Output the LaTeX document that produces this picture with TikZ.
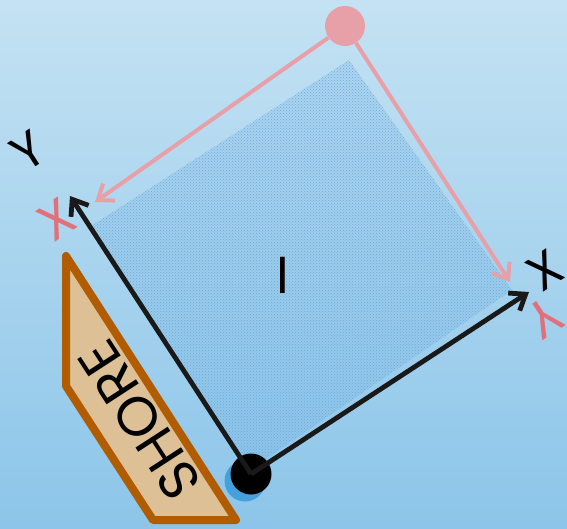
\documentclass[tikz,border=0pt]{standalone}
\usepackage{fontspec}
\setmainfont{Poppins}
\usetikzlibrary{arrows.meta,patterns}

\definecolor{seatop}{RGB}{196,226,243}
\definecolor{seabot}{RGB}{140,197,233}
\definecolor{zone}{RGB}{118,180,228}
\definecolor{zonedots}{RGB}{105,170,222}
\definecolor{pinkish}{RGB}{232,160,168}
\definecolor{redlabel}{RGB}{226,112,122}
\definecolor{shoreline}{RGB}{178,92,0}
\definecolor{sand}{RGB}{221,192,150}
\definecolor{dotshadow}{RGB}{70,160,218}

\newcommand*{\tilt}{33}

\begin{document}
\begin{tikzpicture}
[
	x=1pt,
	y=-1pt,
	axis/.style={line width=4.8pt,draw=black!90,-{Straight Barb[length=14pt,width=21pt]}},
	refaxis/.style={line width=4pt,draw=pinkish,-{Straight Barb[length=14pt,width=21pt]}},
	axlabel/.style={font=\fontsize{50}{50}\selectfont,inner sep=0pt,rotate=\tilt},
	reflabel/.style={font=\fontsize{52}{52}\selectfont,inner sep=0pt,text=redlabel,rotate=180+\tilt},
	dot/.style={circle,fill,inner sep=0pt,minimum size=41pt}
]

	% background
	\shade[top color=seatop, bottom color=seabot] (0,0) rectangle (567,529);
	\useasboundingbox (0,0) rectangle (567,529);

	% zone
	\fill[zone, fill opacity=0.22] (250,470) -- (512,290) -- (349,60) -- (88,228) -- cycle;
	\fill[pattern=crosshatch dots, pattern color=zonedots] (250,470) -- (512,290) -- (349,60) -- (88,228) -- cycle;
	\node[font=\fontsize{52}{52}\selectfont] (zonelab) at (283,275) {I};

	% shore
	\draw[line width=8pt, draw=shoreline, fill=sand, line join=round] (66,256) -- (66,386) -- (153,520) -- (236,520) -- cycle;
	\node[rotate=123, font=\fontsize{55}{55}\selectfont] (shore) at (140,420) {SHORE};

	% origins
	\node[dot,dotshadow] (oshadow) at (245,481) {};
	\node[dot,black] (o) at (251,474) {};
	\node[dot,pinkish,minimum size=40pt] (p) at (345,26) {};

	\coordinate (xtip) at (529,292);
	\coordinate (ytip) at (70,196);
	\coordinate (rxtip) at (95,202);
	\coordinate (rytip) at (510,282);

	% axes
	\draw[axis] (o.center) -- (xtip);
	\draw[axis] (o.center) -- (ytip);
	\draw[refaxis] (p) -- (rxtip);
	\draw[refaxis] (p) -- (rytip);

	\node[axlabel] (xlab) at (545,270) {X};
	\node[axlabel] (ylab) at (28,151) {Y};
	\node[reflabel] (rxlab) at (57,219) {X};
	\node[reflabel] (rylab) at (545,318) {Y};

\end{tikzpicture}
\end{document}
